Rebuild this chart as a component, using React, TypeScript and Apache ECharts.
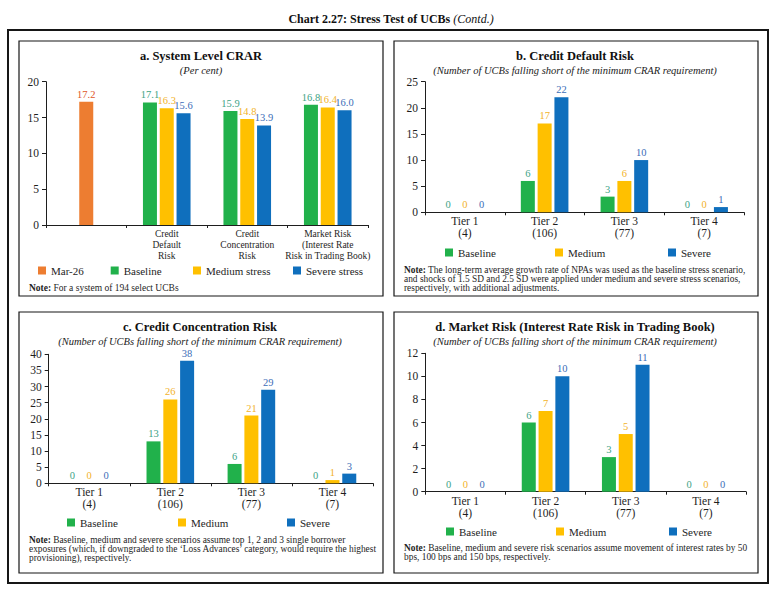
import React, { useEffect, useRef } from 'react';
import * as echarts from 'echarts';

// ---- Panel a: system level CRAR (per cent) ----
const crarCategories = [
  '',
  'Credit\nDefault\nRisk',
  'Credit\nConcentration\nRisk',
  'Market Risk\n(Interest Rate\nRisk in Trading Book)',
];
const crarMar26 = [17.2, null, null, null];
const crarBaseline = [null, 17.1, 15.9, 16.8];
const crarMedium = [null, 16.3, 14.8, 16.4];
const crarSevere = [null, 15.6, 13.9, 16.0];
const crarTicks = [0, 5, 10, 15, 20];

// ---- Tier categories shared by panels b, c, d ----
const tierNames = ['Tier 1', 'Tier 2', 'Tier 3', 'Tier 4'];
const tierCounts = ['(4)', '(106)', '(77)', '(7)'];

// ---- Panel b: credit default risk ----
const defaultBaseline = [0, 6, 3, 0];
const defaultMedium = [0, 17, 6, 0];
const defaultSevere = [0, 22, 10, 1];
const defaultTicks = [0, 5, 10, 15, 20, 25];

// ---- Panel c: credit concentration risk ----
const concBaseline = [0, 13, 6, 0];
const concMedium = [0, 26, 21, 1];
const concSevere = [0, 38, 29, 3];
const concTicks = [0, 5, 10, 15, 20, 25, 30, 35, 40];

// ---- Panel d: market risk ----
const marketBaseline = [0, 6, 3, 0];
const marketMedium = [0, 7, 5, 0];
const marketSevere = [0, 10, 11, 0];
const marketTicks = [0, 2, 4, 6, 8, 10, 12];

const FONT = '"Liberation Serif", "Times New Roman", serif';
const INK = '#1e1e1e';

const COLORS = {
  mar: '#ED7D31',
  base: '#21B14B',
  med: '#FFC000',
  sev: '#0F6FBD',
};
const LABEL_COLORS = {
  mar: '#E0562A',
  base: '#3DA386',
  med: '#F2B22A',
  sev: '#3B6DB7',
};

const tierLabels = tierNames.map((t, i) => `${t}\n${tierCounts[i]}`);

function catAxis(gridIndex: number, data: string[], fontSize: number, lineHeight: number, margin: number) {
  return {
    type: 'category',
    gridIndex,
    data,
    axisLine: { lineStyle: { color: INK, width: 1 } },
    axisTick: { show: true, length: 3, lineStyle: { color: INK } },
    axisLabel: { color: INK, fontFamily: FONT, fontSize, lineHeight, margin, interval: 0 },
  };
}

function valAxis(gridIndex: number, ticks: number[]) {
  return {
    type: 'value',
    gridIndex,
    min: ticks[0],
    max: ticks[ticks.length - 1],
    interval: ticks[1] - ticks[0],
    splitLine: { show: false },
    axisLine: { show: true, lineStyle: { color: INK, width: 1 } },
    axisTick: { show: true, length: 4, lineStyle: { color: INK } },
    axisLabel: { color: INK, fontFamily: FONT, fontSize: 11.5, margin: 7 },
  };
}

function barSeries(
  name: string,
  data: (number | null)[],
  key: keyof typeof COLORS,
  axis: number,
  opts: { decimals?: number; stack?: string } = {}
) {
  const decimals = opts.decimals ?? 0;
  return {
    type: 'bar',
    name,
    data,
    xAxisIndex: axis,
    yAxisIndex: axis,
    stack: opts.stack,
    barWidth: 14,
    barGap: '20%',
    itemStyle: { color: COLORS[key] },
    label: {
      show: true,
      position: 'top',
      distance: 2,
      color: LABEL_COLORS[key],
      fontFamily: FONT,
      fontSize: 10.5,
      formatter: (p: any) => (p.value == null || p.value === '-' ? '' : Number(p.value).toFixed(decimals)),
    },
  };
}

function legendItem(name: string, left: number, top: number) {
  return {
    data: [name],
    left,
    top,
    padding: 0,
    icon: 'rect',
    itemWidth: 8,
    itemHeight: 8,
    selectedMode: false,
    textStyle: { fontFamily: FONT, fontSize: 11, color: INK },
  };
}

function panelTitle(text: string, sub: string, cx: number, top: number) {
  return {
    text,
    subtext: sub,
    left: cx,
    top,
    textAlign: 'center',
    padding: 0,
    itemGap: 1,
    textStyle: { fontFamily: FONT, fontSize: 12.5, fontWeight: 'bold', color: '#111', lineHeight: 14 },
    subtextStyle: { fontFamily: FONT, fontStyle: 'italic', fontSize: 10.5, color: '#222', lineHeight: 12 },
  };
}

function noteLine(text: string, x: number, y: number, size = 9.4) {
  return {
    type: 'text',
    x,
    y,
    silent: true,
    style: {
      text,
      fontFamily: FONT,
      fontSize: size,
      fill: INK,
      align: 'left',
      verticalAlign: 'middle',
      rich: {
        b: { fontFamily: FONT, fontSize: size, fontWeight: 'bold', fill: INK },
      },
    },
  };
}

function box(x: number, y: number, width: number, height: number, lineWidth: number) {
  return {
    type: 'rect',
    silent: true,
    shape: { x, y, width, height },
    style: { fill: 'none', stroke: '#161616', lineWidth },
  };
}

export default function App() {
  const ref = useRef<HTMLDivElement>(null);

  useEffect(() => {
    if (!ref.current) return;
    const chart = echarts.init(ref.current, undefined, { renderer: 'svg' });

    chart.setOption({
      animation: false,
      backgroundColor: '#ffffff',
      title: [
        panelTitle('a. System Level CRAR', '(Per cent)', 201, 49),
        panelTitle('b. Credit Default Risk', '(Number of UCBs falling short of the minimum CRAR requirement)', 575, 49),
        panelTitle('c. Credit Concentration Risk', '(Number of UCBs falling short of the minimum CRAR requirement)', 200, 320),
        panelTitle('d. Market Risk (Interest Rate Risk in Trading Book)', '(Number of UCBs falling short of the minimum CRAR requirement)', 575, 320),
      ],
      grid: [
        { left: 46, top: 81.7, width: 322, height: 143.3 },
        { left: 425, top: 81.7, width: 319, height: 130.6 },
        { left: 48.7, top: 354.3, width: 324.3, height: 129 },
        { left: 425.3, top: 353.3, width: 320.7, height: 138.4 },
      ],
      xAxis: [
        catAxis(0, crarCategories, 9.5, 11, 3),
        catAxis(1, tierLabels, 11.5, 12, 3),
        catAxis(2, tierLabels, 11.5, 12, 3),
        catAxis(3, tierLabels, 11.5, 12, 3),
      ],
      yAxis: [valAxis(0, crarTicks), valAxis(1, defaultTicks), valAxis(2, concTicks), valAxis(3, marketTicks)],
      legend: [
        legendItem('Mar-26', 38, 265),
        legendItem('Baseline', 110.7, 265),
        legendItem('Medium stress', 193, 265),
        legendItem('Severe stress', 293, 265),
        legendItem('Baseline', 445, 247),
        legendItem('Medium', 555, 247),
        legendItem('Severe', 668, 247),
        legendItem('Baseline', 67, 517),
        legendItem('Medium', 178, 517),
        legendItem('Severe', 287, 517),
        legendItem('Baseline', 446, 526),
        legendItem('Medium', 556, 526),
        legendItem('Severe', 669, 526),
      ],
      series: [
        barSeries('Baseline', crarBaseline, 'base', 0, { decimals: 1, stack: 'slot1' }),
        barSeries('Mar-26', crarMar26, 'mar', 0, { decimals: 1, stack: 'slot2' }),
        barSeries('Medium stress', crarMedium, 'med', 0, { decimals: 1, stack: 'slot2' }),
        barSeries('Severe stress', crarSevere, 'sev', 0, { decimals: 1, stack: 'slot3' }),

        barSeries('Baseline', defaultBaseline, 'base', 1),
        barSeries('Medium', defaultMedium, 'med', 1),
        barSeries('Severe', defaultSevere, 'sev', 1),

        barSeries('Baseline', concBaseline, 'base', 2),
        barSeries('Medium', concMedium, 'med', 2),
        barSeries('Severe', concSevere, 'sev', 2),

        barSeries('Baseline', marketBaseline, 'base', 3),
        barSeries('Medium', marketMedium, 'med', 3),
        barSeries('Severe', marketSevere, 'sev', 3),
      ],
      graphic: [
        {
          type: 'text',
          x: 391,
          y: 19,
          silent: true,
          style: {
            text: '{b|Chart 2.27: Stress Test of UCBs} {i|(Contd.)}',
            align: 'center',
            verticalAlign: 'middle',
            fill: '#111',
            fontFamily: FONT,
            fontSize: 12,
            rich: {
              b: { fontFamily: FONT, fontSize: 12, fontWeight: 'bold', fill: '#111' },
              i: { fontFamily: FONT, fontSize: 12, fontStyle: 'italic', fill: '#111' },
            },
          },
        },
        box(8, 30, 760, 553, 2),
        box(19, 41, 364, 255, 1.2),
        box(394, 41, 364, 255, 1.2),
        box(19, 312, 364, 261, 1.2),
        box(394, 312, 364, 261, 1.2),

        noteLine('{b|Note:} For a system of 194 select UCBs', 29, 288, 9.5),

        noteLine('{b|Note:} The long-term average growth rate of NPAs was used as the baseline stress scenario,', 404, 270),
        noteLine('and shocks of 1.5 SD and 2.5 SD were applied under medium and severe stress scenarios,', 404, 279),
        noteLine('respectively, with additional adjustments.', 404, 288),

        noteLine('{b|Note:} Baseline, medium and severe scenarios assume top 1, 2 and 3 single borrower', 29, 540),
        noteLine('exposures (which, if downgraded to the \u2018Loss Advances\u2019 category, would require the highest', 29, 549),
        noteLine('provisioning), respectively.', 29, 558),

        noteLine('{b|Note:} Baseline, medium and severe risk scenarios assume movement of interest rates by 50', 404, 548),
        noteLine('bps, 100 bps and 150 bps, respectively.', 404, 557),
      ],
    });

    return () => chart.dispose();
  }, []);

  return (
    <div
      ref={ref}
      style={{ position: 'absolute', left: 0, top: 0, width: 783, height: 591, background: '#fff' }}
    />
  );
}
